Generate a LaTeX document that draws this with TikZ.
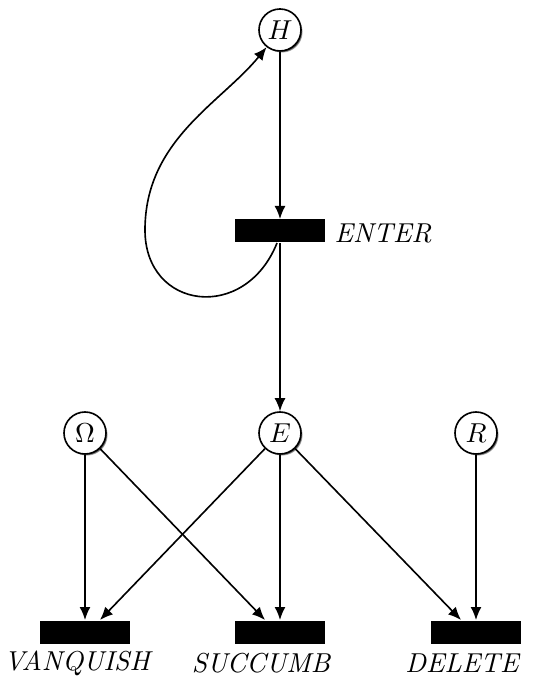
\documentclass[tikz,border=0pt]{standalone}
\usetikzlibrary{arrows.meta,shadows}
\begin{document}
\begin{tikzpicture}[x=0.4pt,y=-0.4pt,
  every node/.style={font=\fontsize{10.95}{13}\selectfont},
  place/.style={circle,draw,fill=white,line width=0.65pt,minimum size=16.8pt,inner sep=0pt,
    circular drop shadow={shadow xshift=0.7pt,shadow yshift=-0.7pt,fill=black,opacity=1,shadow scale=1}},
  trans/.style={rectangle,fill=black,minimum width=36pt,minimum height=9.2pt,inner sep=0pt},
  lbl/.style={inner sep=0pt,font=\fontsize{10.95}{13}\selectfont\itshape},
  arr/.style={line width=0.65pt,-{Latex[length=5.2pt,width=4.4pt]}}]
\useasboundingbox (0,0) rectangle (538,677);
% places
\node[place] (h) at (280,30) {$H$};
\node[place] (e) at (280,433) {$E$};
\node[place] (om) at (85,433) {$\Omega$};
\node[place] (r) at (476,433) {$R$};
% transitions
\node[trans] (enter) at (280,231) {};
\node[trans] (vanq) at (85,632) {};
\node[trans] (succ) at (280,632) {};
\node[trans] (del) at (476,632) {};
% labels
\node[lbl,anchor=west] (lenter) at (334,233) {ENTER};
\node[lbl] (lvanq) at (77,663) {VANQUISH};
\node[lbl] (lsucc) at (261,663) {SUCCUMB};
\node[lbl] (ldel) at (462,663) {DELETE};
% arcs
\draw[arr] (h) -- (enter);
\draw[arr] (enter) -- (e);
\coordinate (pl) at (145,230);
\draw[arr] ([xshift=-1.2pt]enter.south) .. controls (245,323) and (145,310) .. (pl)
  .. controls (145,140) and (221,103) .. (h.232);
\draw[arr] (om) -- (vanq.north);
\draw[arr] (e) -- ([xshift=6pt]vanq.north);
\draw[arr] (om) -- ([xshift=-6pt]succ.north);
\draw[arr] (e) -- (succ.north);
\draw[arr] (e) -- ([xshift=-6pt]del.north);
\draw[arr] (r) -- (del.north);
\end{tikzpicture}
\end{document}
